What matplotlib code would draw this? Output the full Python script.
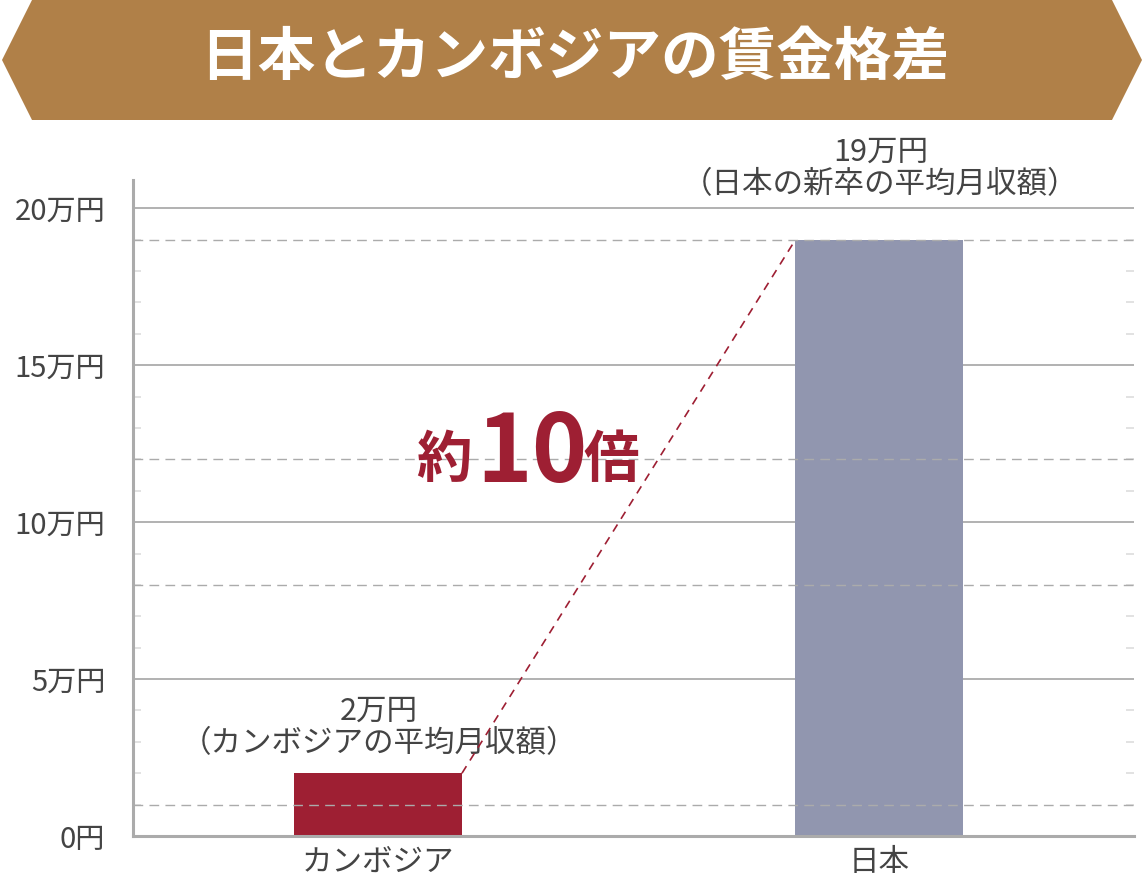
import matplotlib
matplotlib.use("Agg")
import matplotlib.pyplot as plt
from matplotlib.patches import Polygon
from matplotlib.ticker import MultipleLocator

plt.rcParams['font.family'] = ['Noto Sans CJK JP', 'DejaVu Sans']

# -------------------------
# DATA
# -------------------------
categories = ["カンボジア", "日本"]
values = [2, 19]                       # 万円
value_labels = ["2万円\n（カンボジアの平均月収額）", "19万円\n（日本の新卒の平均月収額）"]
label_gap = [0.45, 1.25]
yticks = [0, 5, 10, 15, 20]
ytick_labels = ["0円", "5万円", "10万円", "15万円", "20万円"]
dashed_levels = [1, 8, 12, 19]
title = "日本とカンボジアの賃金格差"

W, H = 1142, 894
BROWN = "#B08048"
RED = "#9E1F33"
BLUE_GRAY = "#9196AF"
GRID = "#ABABAB"
TEXT = "#444444"

fig = plt.figure(figsize=(W / 100, H / 100), dpi=100)

# -------------------------
# TITLE BANNER
# -------------------------
def fx(px):
    return px / W

def fy(py):
    return 1 - py / H

banner = Polygon(
    [(fx(2), fy(60)), (fx(32), fy(0)), (fx(1112), fy(0)),
     (fx(1142), fy(60)), (fx(1112), fy(120)), (fx(32), fy(120))],
    closed=True, facecolor=BROWN, edgecolor="none", transform=fig.transFigure,
)
fig.patches.append(banner)
fig.text(fx(575), fy(58), title, ha="center", va="center", color="white",
         fontsize=41.5, fontweight="bold")

# -------------------------
# CHART
# -------------------------
ax = fig.add_axes([fx(133), fy(836), fx(1134) - fx(133), fy(180) - fy(836)])
x = [0, 1]
bar_w = 0.335
ax.bar(x, values, width=bar_w, color=[RED, BLUE_GRAY], zorder=2)

ax.set_xlim(-0.4885, 1.5075)
ax.set_ylim(0, 20.9)

for y in yticks[1:]:
    ax.axhline(y, color=GRID, lw=1.3, zorder=1)
for y in dashed_levels:
    ax.axhline(y, color=GRID, lw=1.0, ls=(0, (7, 4.5)), zorder=3)

# connector line between the bar tops
ax.plot([x[0] + bar_w / 2, x[1] - bar_w / 2], values, color=RED, lw=1.2,
        ls=(0, (5, 4)), zorder=4)

ax.text(0.1875, 11.95, "約", color=RED, fontsize=40, fontweight="bold",
        ha="right", va="center")
ax.text(0.195, 12.15, "10", color=RED, fontsize=68, fontweight="bold",
        ha="left", va="center")
ax.text(0.41, 11.95, "倍", color=RED, fontsize=40, fontweight="bold",
        ha="left", va="center")

for xi, v, lab, gap in zip(x, values, value_labels, label_gap):
    ax.text(xi + 0.002, v + gap, lab, ha="center", va="bottom", color=TEXT,
            fontsize=22, linespacing=1.05)

ax.set_xticks(x)
ax.set_xticklabels(categories, fontsize=22, color=TEXT)
ax.set_yticks(yticks)
ax.set_yticklabels(ytick_labels, fontsize=21, color=TEXT)
ax.tick_params(axis="both", length=0, pad=8)
ax.tick_params(axis="y", pad=20)
ax.yaxis.set_minor_locator(MultipleLocator(1))
ax.tick_params(axis="y", which="minor", direction="in", length=6, width=1.2,
               color="#DDDDDD", right=True)

for side in ["top", "right"]:
    ax.spines[side].set_visible(False)
for side in ["left", "bottom"]:
    ax.spines[side].set_color(GRID)
    ax.spines[side].set_linewidth(2.2)
    ax.spines[side].set_zorder(5)

fig.savefig("out.png", dpi=100)
